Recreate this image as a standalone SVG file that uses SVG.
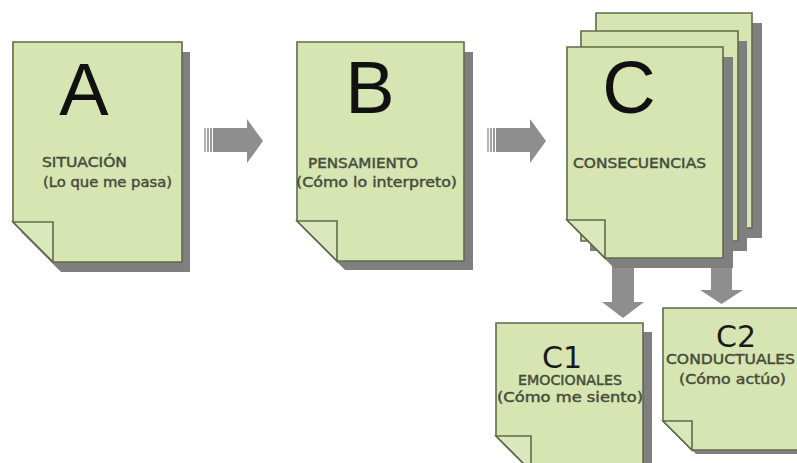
<svg xmlns="http://www.w3.org/2000/svg" width="797" height="463" viewBox="0 0 797 463">
<style>
.page{fill:#d6e5b2;stroke:#5f6c4b;stroke-width:1.6;stroke-linejoin:miter}
.flap{fill:#dbe8bd;stroke:#5f6c4b;stroke-width:1.6;stroke-linejoin:miter}
.shadow{fill:#7f7f7f}
.big{font-family:"Liberation Sans",Arial,sans-serif;font-size:74px;fill:#111;text-anchor:middle}
.mid{font-family:"DejaVu Sans",Verdana,sans-serif;font-size:30px;fill:#1a1a1a;text-anchor:middle}
.lbl{font-family:"DejaVu Sans",Verdana,sans-serif;font-size:14px;fill:#474c3b;stroke:#474c3b;stroke-width:0.45}
.arrow{fill:#8e8e8e}
</style>
<rect width="797" height="463" fill="#ffffff"/>
<g id="connectors">
  <g id="arrow-ab">
    <rect x="204" y="128" width="2" height="24" fill="#b4b4b4"/>
    <rect x="207" y="128" width="2" height="24" fill="#a2a2a2"/>
    <rect x="210" y="128" width="2" height="24" fill="#9a9a9a"/>
    <path class="arrow" d="M213,128 H247 V119 L263,141 L247,163 V152 H213 Z"/>
  </g>
  <g id="arrow-bc">
    <rect x="487" y="128" width="2" height="24" fill="#b4b4b4"/>
    <rect x="490" y="128" width="2" height="24" fill="#a2a2a2"/>
    <rect x="493" y="128" width="2" height="24" fill="#9a9a9a"/>
    <path class="arrow" d="M496,128 H530 V119 L546,141 L530,163 V152 H496 Z"/>
  </g>
  <path id="arrow-c-c1" class="arrow" d="M612,258 H634 V302 H644 L623,318 L602,302 H612 Z"/>
  <path id="arrow-c-c2" class="arrow" d="M711,255 H732 V290 H743 L721.5,304 L700,290 H711 Z"/>
</g>
<g id="node-a">
  <path class="shadow" d="M21,52 H190 V272 H61 L21,232 Z"/>
  <path class="page" d="M13,42 H182 V262 H53 L13,222 Z"/>
  <path class="flap" d="M13,222 H53 V262 Z"/>
  <text class="big" x="84" y="115">A</text>
  <text class="lbl" x="42" y="167" textLength="85" lengthAdjust="spacingAndGlyphs">SITUACIÓN</text>
  <text class="lbl" x="43" y="187" textLength="129" lengthAdjust="spacingAndGlyphs">(Lo que me pasa)</text>
</g>
<g id="node-b">
  <path class="shadow" d="M305,52 H473 V270 H345 L305,230 Z"/>
  <path class="page" d="M297,42 H464 V261 H337 L297,221 Z"/>
  <path class="flap" d="M297,221 H337 V261 Z"/>
  <text class="big" x="370" y="113">B</text>
  <text class="lbl" x="308" y="168" textLength="110" lengthAdjust="spacingAndGlyphs">PENSAMIENTO</text>
  <text class="lbl" x="296" y="187" textLength="161" lengthAdjust="spacingAndGlyphs">(Cómo lo interpreto)</text>
</g>
<g id="node-c">
  <path class="shadow" d="M605,23 H762 V238 H605 Z"/>
  <path class="page" d="M596,13 H752 V228 H596 Z"/>
  <path class="shadow" d="M590,41 H747 V251 H590 Z"/>
  <path class="page" d="M581,31 H738 V241 H581 Z"/>
  <path class="shadow" d="M576,57 H733 V268 H614 L576,230 Z"/>
  <path class="page" d="M567,47 H723 V258 H605 L567,220 Z"/>
  <path class="flap" d="M567,220 H605 V258 Z"/>
  <text class="big" x="629" y="113">C</text>
  <text class="lbl" x="573" y="168" textLength="133" lengthAdjust="spacingAndGlyphs">CONSECUENCIAS</text>
</g>
<g id="node-c1">
  <path class="shadow" d="M505,332 H652 V480 H540 L505,445 Z"/>
  <path class="page" d="M496,323 H643 V471 H531 L496,436 Z"/>
  <path class="flap" d="M496,436 H531 V471 Z"/>
  <text class="mid" x="562" y="368">C1</text>
  <text class="lbl" x="518" y="385" textLength="104" lengthAdjust="spacingAndGlyphs">EMOCIONALES</text>
  <text class="lbl" x="497" y="402" textLength="146" lengthAdjust="spacingAndGlyphs">(Cómo me siento)</text>
</g>
<g id="node-c2">
  <path class="shadow" d="M667,312 H810 V454 H696 L667,425 Z"/>
  <path class="page" d="M663,308 H806 V450 H692 L663,421 Z"/>
  <path class="flap" d="M663,421 H692 V450 Z"/>
  <text class="mid" x="736" y="347">C2</text>
  <text class="lbl" x="666" y="364" textLength="129" lengthAdjust="spacingAndGlyphs">CONDUCTUALES</text>
  <text class="lbl" x="679" y="384" textLength="107" lengthAdjust="spacingAndGlyphs">(Cómo actúo)</text>
</g>
</svg>
